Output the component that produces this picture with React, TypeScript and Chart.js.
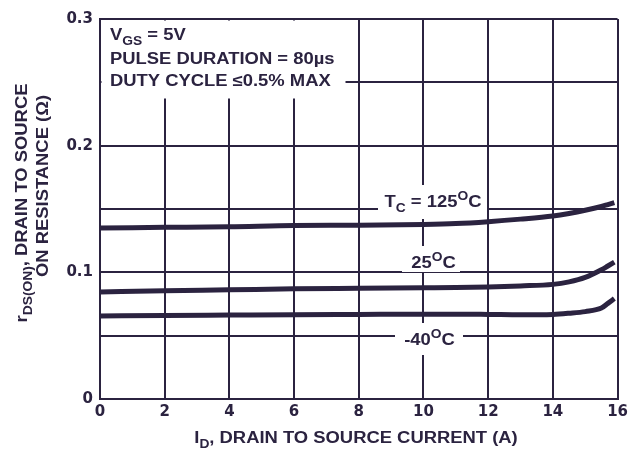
import React, { useEffect, useRef } from "react";
import { Chart, registerables } from "chart.js";

Chart.register(...registerables);

const currentA = [0, 2, 4, 6, 8, 10, 11, 12, 13, 14, 14.5, 15, 15.5, 15.7, 15.9];
const r125 = [0.135, 0.1355, 0.136, 0.137, 0.1372, 0.1378, 0.1385, 0.14, 0.142, 0.1445, 0.1465, 0.149, 0.152, 0.1535, 0.155];
const r25 = [0.0845, 0.0855, 0.0862, 0.087, 0.0874, 0.0878, 0.088, 0.0885, 0.0893, 0.0905, 0.0925, 0.096, 0.102, 0.105, 0.108];
const rm40 = [0.0655, 0.066, 0.0663, 0.0666, 0.0668, 0.067, 0.067, 0.0668, 0.0665, 0.0668, 0.0677, 0.069, 0.0718, 0.0755, 0.0793];
const seriesLabels = ["TC = 125°C", "25°C", "-40°C"];

const INK = "#2b2340";
const FONT = "'Liberation Sans', Arial, Helvetica, sans-serif";
const TICK_FONT = "'DejaVu Sans', 'Liberation Sans', sans-serif";
const SX = 1.15;

type Seg = { t: string; k?: "sub" | "sup" };

function segFont(size: number, k?: string) {
  const s = k ? Math.round(size * 0.75) : size;
  return `bold ${s}px ${FONT}`;
}

function richWidth(ctx: CanvasRenderingContext2D, segs: Seg[], size: number) {
  let w = 0;
  for (const s of segs) {
    ctx.font = segFont(size, s.k);
    w += ctx.measureText(s.t).width;
  }
  return w;
}

function drawRich(ctx: CanvasRenderingContext2D, x: number, y: number, segs: Seg[], size: number, align: "left" | "center") {
  const w = richWidth(ctx, segs, size) * SX;
  const x0 = align === "center" ? x - w / 2 : x;
  ctx.save();
  ctx.translate(x0, y);
  ctx.scale(SX, 1);
  let cx = 0;
  ctx.textAlign = "left";
  ctx.textBaseline = "alphabetic";
  ctx.fillStyle = INK;
  for (const s of segs) {
    ctx.font = segFont(size, s.k);
    const dy = s.k === "sub" ? size * 0.3 : s.k === "sup" ? -size * 0.42 : 0;
    ctx.fillText(s.t, cx, dy);
    cx += ctx.measureText(s.t).width;
  }
  ctx.restore();
}

const annotPlugin = {
  id: "annot",
  afterDatasetsDraw(chart: any) {
    const ctx: CanvasRenderingContext2D = chart.ctx;
    const xs = chart.scales.x;
    const ys = chart.scales.y;
    ctx.save();
    ctx.fillStyle = "#ffffff";
    // conditions box
    ctx.fillRect(xs.getPixelForValue(0) + 1.5, ys.getPixelForValue(0.3) + 1.5, 244, 78);
    drawRich(ctx, 110, 40, [{ t: "V" }, { t: "GS", k: "sub" }, { t: " = 5V" }], 16, "left");
    drawRich(ctx, 110, 64, [{ t: "PULSE DURATION = 80µs" }], 16, "left");
    drawRich(ctx, 110, 86, [{ t: "DUTY CYCLE ≤0.5% MAX" }], 16, "left");

    // curve labels
    ctx.fillStyle = "#ffffff";
    ctx.fillRect(378, 185, 109, 34);
    ctx.fillRect(402, 246, 58, 26);
    ctx.fillRect(395, 323, 68, 32);
    drawRich(ctx, 433, 207, [{ t: "T" }, { t: "C", k: "sub" }, { t: " = 125" }, { t: "O", k: "sup" }, { t: "C" }], 16, "center");
    drawRich(ctx, 433.5, 268, [{ t: "25" }, { t: "O", k: "sup" }, { t: "C" }], 16, "center");
    drawRich(ctx, 429.5, 345, [{ t: "-40" }, { t: "O", k: "sup" }, { t: "C" }], 16, "center");

    // x title
    drawRich(ctx, 356, 443, [{ t: "I" }, { t: "D", k: "sub" }, { t: ", DRAIN TO SOURCE CURRENT (A)" }], 16, "center");

    // y title
    ctx.save();
    ctx.translate(27, 203);
    ctx.rotate(-Math.PI / 2);
    drawRich(ctx, 0, 0, [{ t: "r" }, { t: "DS(ON)", k: "sub" }, { t: ", DRAIN TO SOURCE" }], 16, "center");
    ctx.restore();
    ctx.save();
    ctx.translate(48, 186);
    ctx.rotate(-Math.PI / 2);
    drawRich(ctx, 0, 0, [{ t: "ON RESISTANCE (Ω)" }], 16, "center");
    ctx.restore();
    ctx.restore();
  },
};

export default function App() {
  const ref = useRef<HTMLCanvasElement>(null);
  useEffect(() => {
    if (!ref.current) return;
    const mk = (vals: number[], label: string) => ({
      label,
      data: currentA.map((x, i) => ({ x, y: vals[i] })),
      borderColor: INK,
      borderWidth: 5,
      pointRadius: 0,
      fill: false,
      cubicInterpolationMode: "monotone" as const,
      borderCapStyle: "butt" as const,
    });
    const chart = new Chart(ref.current, {
      type: "line",
      data: {
        datasets: [mk(r125, seriesLabels[0]), mk(r25, seriesLabels[1]), mk(rm40, seriesLabels[2])],
      },
      plugins: [annotPlugin],
      options: {
        animation: false,
        responsive: false,
        layout: { padding: { top: 19, right: 10.5, left: 0, bottom: 0 } },
        plugins: { legend: { display: false }, tooltip: { enabled: false } },
        scales: {
          x: {
            type: "linear",
            min: 0,
            max: 16,
            afterFit: (s: any) => {
              s.height = 50;
            },
            grid: { color: INK, lineWidth: 2, drawTicks: false },
            border: { color: INK, width: 2 },
            ticks: {
              stepSize: 2,
              padding: 4,
              color: INK,
              font: { family: TICK_FONT, size: 15, weight: "bold" },
              maxRotation: 0,
            },
          },
          y: {
            type: "linear",
            min: 0,
            max: 0.3,
            afterFit: (s: any) => {
              s.width = 100;
            },
            grid: { color: INK, lineWidth: 2, drawTicks: false },
            border: { color: INK, width: 2 },
            ticks: {
              stepSize: 0.05,
              padding: 7,
              color: INK,
              font: { family: TICK_FONT, size: 15, weight: "bold" },
              callback: (v: any) => {
                const n = Number(v);
                const t = Math.round(n * 100);
                if (t % 10 !== 0) return "";
                return t === 0 ? "0" : (t / 100).toFixed(1);
              },
            },
          },
        },
      },
    });
    return () => chart.destroy();
  }, []);
  return (
    <div style={{ position: "fixed", left: 0, top: 0, width: 632, height: 449, background: "#fff" }}>
      <canvas ref={ref} width={632} height={449} style={{ display: "block" }} />
    </div>
  );
}
